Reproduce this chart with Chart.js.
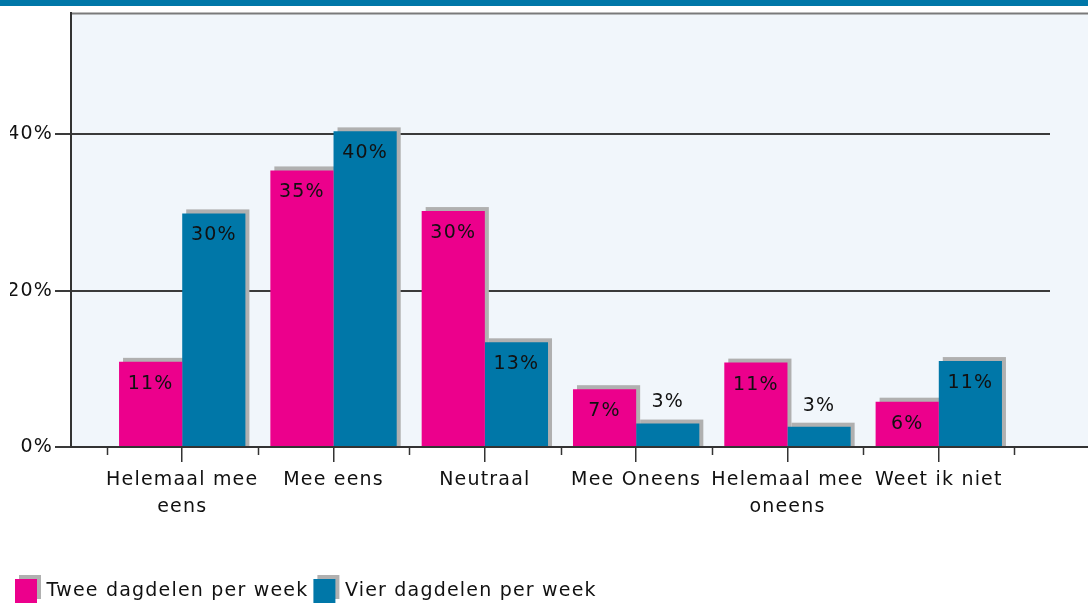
<!DOCTYPE html>
<html>
<head>
<meta charset="utf-8">
<script src="https://cdn.jsdelivr.net/npm/chart.js@4.4.1/dist/chart.umd.min.js"></script>
<style>
    html, body { margin: 0; padding: 0; background: #fff; }
    #wrap { width: 1088px; height: 603px; }
</style>
</head>
<body>
<div id="wrap"><canvas id="grafico"></canvas></div>
<script>
// categorieen en waarden
const categorias = [['Helemaal mee', 'eens'], 'Mee eens', 'Neutraal', 'Mee Oneens', ['Helemaal mee', 'oneens'], 'Weet ik niet'];
const tweeDagdelen = [10.9, 35.4, 30.2, 7.4, 10.8, 5.8];
const vierDagdelen = [29.9, 40.4, 13.4, 3.0, 2.6, 11.0];
const series = ['Twee dagdelen per week', 'Vier dagdelen per week'];
const yTicks = [0, 20, 40];

const roze = '#ec008c';
const blauw = '#0077a8';
const fonte = { family: 'DejaVu Sans', size: 19, lineHeight: 1.4 };
const fonteY = { family: 'DejaVu Sans', size: 19, lineHeight: 1.2 };

function spacing(chart) {
    chart.ctx.letterSpacing = '1.2px';
}

// achtergrond, blauwe balk en kader
const achtergrond = {
    id: 'achtergrond',
    beforeInit: spacing,
    beforeLayout: spacing,
    beforeDraw(chart) {
        spacing(chart);
        const { ctx, chartArea: ca, width } = chart;
        ctx.save();
        ctx.fillStyle = '#fff';
        ctx.fillRect(0, 0, width, chart.height);
        ctx.fillStyle = blauw;
        ctx.fillRect(0, 0, width, 6);
        ctx.fillStyle = '#f1f6fb';
        ctx.fillRect(ca.left, ca.top, width - ca.left, ca.bottom - ca.top);
        ctx.strokeStyle = '#7a7a7a';
        ctx.lineWidth = 2;
        ctx.beginPath();
        ctx.moveTo(ca.left, ca.top);
        ctx.lineTo(width, ca.top);
        ctx.stroke();

        // schaduw achter de legenda-vakjes
        const lg = chart.legend;
        if (lg && lg.legendHitBoxes) {
            ctx.fillStyle = '#b0b0b0';
            lg.legendHitBoxes.forEach(hb => {
                ctx.fillRect(hb.left + 4, hb.top - 4 + (hb.height - 24) / 2, 22, 24);
            });
        }
        ctx.restore();
    },
    afterDraw(chart) {
        const { ctx, chartArea: ca, width, scales } = chart;
        ctx.save();
        ctx.strokeStyle = '#333';
        ctx.lineWidth = 2;
        ctx.beginPath();
        ctx.moveTo(ca.right, ca.bottom);
        ctx.lineTo(width, ca.bottom);
        ctx.stroke();
        // korte streepjes tussen de categorieen
        ctx.lineWidth = 1.5;
        for (let i = 0; i <= categorias.length; i++) {
            const x = Math.round(scales.x.getPixelForValue(i - 0.5)) + 0.5;
            ctx.beginPath();
            ctx.moveTo(x, ca.bottom);
            ctx.lineTo(x, ca.bottom + 8);
            ctx.stroke();
        }
        ctx.restore();
    }
};

// grijze schaduw achter de staven en de percentages
const schaduw = {
    id: 'schaduw',
    beforeDatasetsDraw(chart) {
        const ctx = chart.ctx;
        ctx.save();
        ctx.fillStyle = '#b0b0b0';
        chart.data.datasets.forEach((ds, d) => {
            chart.getDatasetMeta(d).data.forEach(bar => {
                const p = bar.getProps(['x', 'y', 'base', 'width'], true);
                ctx.fillRect(p.x - p.width / 2 + 4, p.y - 4, p.width, p.base - p.y + 4);
            });
        });
        ctx.restore();
    },
    afterDatasetsDraw(chart) {
        const ctx = chart.ctx;
        ctx.save();
        ctx.font = '19px "DejaVu Sans"';
        ctx.fillStyle = '#111';
        ctx.textAlign = 'center';
        ctx.textBaseline = 'middle';
        chart.data.datasets.forEach((ds, d) => {
            chart.getDatasetMeta(d).data.forEach((bar, i) => {
                const v = ds.data[i].y;
                const p = bar.getProps(['x', 'y', 'base'], true);
                const y = (p.base - p.y) > 40 ? p.y + 22 : p.y - 21;
                ctx.fillText(Math.round(v) + '%', p.x, y);
            });
        });
        ctx.restore();
    }
};

const grafico = document.getElementById('grafico');

new Chart(grafico, {
    type: 'bar',
    data: {
        datasets: [{
            label: series[0],
            data: tweeDagdelen.map((v, i) => ({ x: i, y: v })),
            backgroundColor: roze,
            borderWidth: 0
        }, {
            label: series[1],
            data: vierDagdelen.map((v, i) => ({ x: i, y: v })),
            backgroundColor: blauw,
            borderWidth: 0
        }]
    },
    options: {
        responsive: true,
        maintainAspectRatio: false,
        animation: false,
        categoryPercentage: 0.835,
        barPercentage: 1,
        layout: { padding: { top: 13, left: 10, right: 38, bottom: -10 } },
        scales: {
            x: {
                type: 'linear',
                offset: false,
                min: -0.735,
                max: 5.735,
                afterBuildTicks: s => { s.ticks = categorias.map((c, i) => ({ value: i })); },
                afterFit: s => { s.height = 127; },
                grid: { offset: false, drawOnChartArea: false, tickLength: 15, color: '#333', lineWidth: 1.5 },
                border: { display: true, color: '#333', width: 2 },
                ticks: {
                    callback: v => categorias[v],
                    maxRotation: 0,
                    autoSkip: false,
                    padding: 5,
                    color: '#111',
                    font: fonte
                }
            },
            y: {
                min: 0,
                max: 55.5,
                afterBuildTicks: s => { s.ticks = yTicks.map(v => ({ value: v })); },
                afterFit: s => { s.width = 61; },
                grid: { color: '#3a3a3a', lineWidth: 2, tickLength: 16 },
                border: { display: true, color: '#333', width: 2 },
                ticks: {
                    callback: v => v + '%',
                    padding: 2,
                    color: '#111',
                    font: fonteY
                }
            }
        },
        plugins: {
            tooltip: { enabled: false },
            legend: {
                position: 'bottom',
                align: 'start',
                labels: {
                    boxWidth: 22,
                    boxHeight: 24,
                    padding: 5,
                    color: '#111',
                    font: fonte
                }
            }
        }
    },
    plugins: [achtergrond, schaduw]
});
</script>
</body>
</html>
